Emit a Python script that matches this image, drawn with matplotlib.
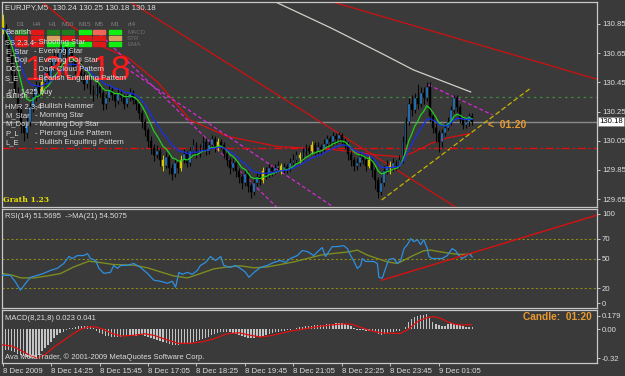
import numpy as np
import pandas as pd
import matplotlib
matplotlib.use("Agg")
import matplotlib.pyplot as plt
from matplotlib.patches import Rectangle
from matplotlib.transforms import blended_transform_factory

# EURJPY M5 candles, one per 5 minutes from 8 Dec 13:05
first_open = 130.88
closes = [
    130.82, 130.74, 130.62, 130.50, 130.38, 130.26, 130.15, 130.10,
    130.18, 130.28, 130.35, 130.42, 130.38, 130.45, 130.52, 130.48, 130.56,
    130.62, 130.58, 130.66, 130.70, 130.64, 130.68, 130.60, 130.55, 130.58, 130.50,
    130.44, 130.48, 130.40, 130.36, 130.42, 130.38, 130.30, 130.34, 130.40, 130.36, 130.32, 130.38, 130.35, 130.30, 130.34, 130.38, 130.33, 130.30,
    130.24, 130.18, 130.12, 130.05, 130.00, 129.95, 129.98, 129.92, 129.88, 129.94, 129.86, 129.82, 129.90, 129.86,
    129.92, 129.96, 129.90, 129.98, 130.02, 129.96, 130.00, 130.04, 129.98, 130.02, 130.06, 130.00, 130.04, 130.02,
    129.96, 129.92, 129.86, 129.90, 129.84, 129.80, 129.76, 129.82, 129.74, 129.70, 129.76,
    129.80, 129.78, 129.84, 129.82, 129.86, 129.84, 129.86, 129.88, 129.85, 129.87, 129.86, 129.90,
    129.92, 129.95, 129.93, 129.97, 130.00, 129.98, 130.02, 129.98, 130.01, 129.99, 130.03, 130.06, 130.04, 130.08, 130.06, 130.09, 130.05, 130.02,
    129.96, 129.92, 129.88, 129.90, 129.94, 129.92, 129.88, 129.92, 129.85, 129.78, 129.70, 129.76,
    129.84, 129.88, 129.86, 129.90, 129.88, 129.92,
    130.05, 130.18, 130.30, 130.26, 130.34, 130.30, 130.38, 130.34, 130.42,
    130.22, 130.14, 130.10, 130.04, 130.10, 130.14,
    130.18, 130.26, 130.34, 130.28, 130.20, 130.16, 130.18, 130.22, 130.18,
]
highs = [
    130.92, 130.85, 130.76, 130.66, 130.53, 130.42, 130.28, 130.18,
    130.22, 130.31, 130.39, 130.46, 130.45, 130.48, 130.55, 130.56, 130.60,
    130.66, 130.65, 130.69, 130.74, 130.72, 130.71, 130.70, 130.63, 130.62, 130.60,
    130.53, 130.51, 130.50, 130.43, 130.45, 130.44, 130.40, 130.37, 130.43, 130.42, 130.38, 130.41, 130.40, 130.37, 130.37, 130.41, 130.40, 130.35,
    130.32, 130.26, 130.20, 130.14, 130.08, 130.03, 130.02, 130.00, 129.95, 129.97, 129.96, 129.89, 129.93, 129.92,
    129.95, 129.99, 129.98, 130.01, 130.06, 130.04, 130.03, 130.08, 130.06, 130.05, 130.09, 130.08, 130.07, 130.06,
    130.04, 129.98, 129.94, 129.93, 129.92, 129.86, 129.82, 129.85, 129.84, 129.76, 129.79,
    129.83, 129.83, 129.87, 129.87, 129.89, 129.88, 129.89, 129.91, 129.90, 129.90, 129.89, 129.93,
    129.96, 129.98, 129.97, 130.00, 130.03, 130.02, 130.05, 130.04, 130.04, 130.03, 130.06, 130.09, 130.08, 130.11, 130.10, 130.11, 130.10, 130.07,
    130.04, 129.98, 129.94, 129.93, 129.97, 129.96, 129.94, 129.95, 129.94, 129.87, 129.80, 129.80,
    129.88, 129.92, 129.91, 129.93, 129.92, 129.95,
    130.08, 130.21, 130.34, 130.36, 130.38, 130.44, 130.42, 130.42, 130.45,
    130.45, 130.24, 130.17, 130.12, 130.13, 130.17,
    130.21, 130.29, 130.36, 130.36, 130.30, 130.22, 130.21, 130.24, 130.24,
]
lows = [
    130.78, 130.70, 130.58, 130.46, 130.34, 130.22, 130.10, 130.05,
    130.07, 130.15, 130.25, 130.32, 130.35, 130.36, 130.43, 130.45, 130.46,
    130.53, 130.55, 130.56, 130.63, 130.60, 130.61, 130.56, 130.51, 130.52, 130.46,
    130.40, 130.41, 130.37, 130.32, 130.34, 130.35, 130.26, 130.27, 130.32, 130.33, 130.28, 130.30, 130.32, 130.27, 130.28, 130.32, 130.30, 130.26,
    130.20, 130.14, 130.08, 130.01, 129.96, 129.91, 129.93, 129.88, 129.84, 129.86, 129.82, 129.78, 129.80, 129.83,
    129.84, 129.90, 129.87, 129.88, 129.96, 129.93, 129.94, 129.98, 129.95, 129.96, 130.00, 129.97, 129.98, 129.99,
    129.93, 129.88, 129.82, 129.84, 129.80, 129.76, 129.72, 129.74, 129.70, 129.66, 129.68,
    129.74, 129.75, 129.76, 129.79, 129.80, 129.81, 129.82, 129.84, 129.82, 129.83, 129.83, 129.84,
    129.88, 129.90, 129.90, 129.91, 129.95, 129.95, 129.96, 129.95, 129.96, 129.96, 129.97, 130.01, 130.01, 130.02, 130.03, 130.04, 130.02, 129.99,
    129.92, 129.88, 129.84, 129.85, 129.88, 129.89, 129.84, 129.86, 129.80, 129.72, 129.66, 129.68,
    129.74, 129.82, 129.82, 129.84, 129.85, 129.86,
    129.90, 130.03, 130.16, 130.22, 130.24, 130.27, 130.28, 130.30, 130.32,
    130.18, 130.10, 130.04, 129.97, 130.01, 130.08,
    130.12, 130.16, 130.24, 130.25, 130.17, 130.13, 130.14, 130.15, 130.16,
]
pattern_bars = [0, 13, 53, 59, 71, 86, 92, 98, 102, 121, 128]

# moving averages / drawn objects (bar index, price)
slow_ma_x = [81.8, 90.1, 108.3, 124.8, 135.6, 154.5]
slow_ma_y = [131.08, 131.00, 130.823, 130.651, 130.535, 130.384]
mid_ma_x = [12.5, 22.4, 32.3, 41.3, 51.2, 62, 74.2, 90.8, 109, 124.8, 131.4, 135.6, 141.3, 146.9, 154.5]
mid_ma_y = [131.01, 130.84, 130.70, 130.62, 130.45, 130.19, 130.08, 130.01, 129.99, 129.95, 129.94, 129.97, 130.03, 130.07, 130.10]
red_lines = [((107.3, 131.01), (196.4, 130.47)), ((42.2, 131.0), (149.2, 129.6))]
magenta_lines = [((32.3, 130.775), (90.4, 129.596)), ((40.6, 130.549), (109.2, 129.596)),
                 ((140.6, 130.432), (161.7, 130.227))]
yellow_line = ((125.1, 129.644), (174.3, 130.41))
level_red = 130.00
level_order = 130.35

# RSI(14) and its MA(21)
rsi_x = [0, 2.6, 4.3, 5.9, 7.6, 9.2, 11.5, 13.6, 15.8, 18, 20.2, 21.9, 23, 24.7, 26.8, 28, 29, 30.7,
         31.8, 33.4, 35.6, 36.7, 37.9, 39, 41.2, 43.3, 45.5, 47.8, 50, 52.1, 54.4, 56, 57.1, 58.2,
         59.3, 61, 62.6, 64.3, 65.3, 67, 68.6, 70.3, 72, 73, 75.2, 76.9, 78.5, 80.2, 81.3, 83, 85.1,
         87.4, 89.5, 91.7, 93.4, 95, 97.3, 98.9, 100.6, 102.7, 104.4, 105.5, 106.6, 107.7, 108.8,
         110.5, 112.6, 113.8, 114.9, 116, 117.1, 118.2, 118.7, 119.8, 121.5, 122.5, 123.7, 124.2,
         125.3, 126.4, 127.5, 129.1, 130.3, 131.4, 132.5, 133.6, 134.7, 135.8, 136.9, 138, 139,
         140.2, 140.7, 141.8, 143.5, 145.1, 146.8, 148.4, 149.5, 150.6, 151.7, 152.8, 153.9, 155]
rsi_val = [33, 33, 26, 18, 25, 31, 33, 35, 38, 40, 45, 52, 50, 53, 53, 55, 50, 48,
           40, 35, 36, 43, 40, 43, 43, 45, 41, 35, 28, 27, 25, 27, 21, 36,
           34, 36, 34, 38, 43, 46, 52, 48, 52, 43, 41, 43, 40, 36, 31, 36, 41,
           43, 46, 48, 46, 50, 53, 58, 57, 53, 58, 61, 52, 57, 62,
           62, 63, 60, 53, 47, 40, 43, 50, 47, 47, 47, 45, 31,
           30, 40, 49, 50, 45, 48, 60, 64, 70, 67, 69, 64, 69,
           60, 52, 50, 50, 50, 53, 60, 58, 53, 50, 52, 55, 51.6]
rsi_ma_x = [0, 3.3, 6, 10.3, 14.7, 19.1, 23.5, 28.5, 32.3, 36.7, 43.3, 47.8, 52.1, 56.5, 61,
            65.3, 69.7, 74.2, 78.5, 83, 87.4, 91.7, 96.1, 100.6, 104.9, 109.2, 114.3, 117.1,
            120.4, 123.7, 127, 130.3, 132.5, 135.8, 139, 141.3, 144.6, 147.9, 151.2, 154.7]
rsi_ma_val = [34.8, 33.1, 30.4, 30.4, 32.4, 34.8, 41.5, 47.3, 45.9, 43.9, 43.3, 40.6, 36.5, 32.4,
              30.4, 34.8, 39.5, 41.5, 42.6, 40.6, 41.5, 43.9, 46.6, 50, 53.4, 55.1, 56.7, 58.5,
              53.4, 50, 46.6, 45, 48.3, 53.4, 57.8, 58.5, 56.7, 55.1, 54.1, 54.5]
rsi_trend = ((125.1, 28), (196.4, 94))

# MACD(8,21,8) histogram per bar, and signal line
macd_hist = [
    -0.20, -0.20, -0.20, -0.21, -0.22, -0.235, -0.245, -0.255, -0.265, -0.275,
    -0.27, -0.26, -0.24, -0.21, -0.18, -0.15, -0.12, -0.085, -0.057, -0.04,
    -0.03, -0.012, 0.005, 0.012, 0.02, 0.024, 0.027, 0.027, 0.027, 0.018,
    0.007, -0.015, -0.038, -0.05, -0.062, -0.07, -0.072, -0.072, -0.072, -0.072,
    -0.07, -0.068, -0.066, -0.066, -0.064, -0.06, -0.057, -0.062, -0.072, -0.082,
    -0.09, -0.10, -0.112, -0.125, -0.135, -0.142, -0.148, -0.151, -0.15, -0.145,
    -0.14, -0.135, -0.128, -0.12, -0.112, -0.104, -0.095, -0.085, -0.072, -0.06,
    -0.05, -0.04, -0.032, -0.027, -0.025, -0.03, -0.04, -0.05, -0.057, -0.068,
    -0.078, -0.086, -0.088, -0.084, -0.078, -0.072, -0.062, -0.052, -0.043, -0.035,
    -0.03, -0.026, -0.022, -0.017, -0.012, -0.008, 0.0, 0.008, 0.015, 0.02,
    0.024, 0.027, 0.03, 0.034, 0.037, 0.038, 0.041, 0.045, 0.047, 0.05,
    0.052, 0.054, 0.053, 0.048, 0.04, 0.025, 0.008, -0.006, -0.01, -0.013,
    -0.016, -0.018, -0.021, -0.025, -0.045, -0.057, -0.05, -0.041, -0.032, -0.025,
    -0.02, -0.016, 0.0, 0.022, 0.07, 0.09, 0.11, 0.12, 0.128, 0.132,
    0.141, 0.10, 0.069, 0.05, 0.038, 0.03, 0.027, 0.045, 0.054, 0.05,
    0.047, 0.04, 0.027, 0.022, 0.016, 0.016,
]
signal_x = [0, 3, 6, 9, 11.5, 14, 17, 20, 23, 26, 28.5, 30.5, 33, 36, 39, 43, 47, 50, 54, 58, 62,
            66, 70, 74, 78, 82, 85, 88, 92, 95, 98.4, 105, 111.6, 114.9, 118.2, 121.5, 124.8, 128,
            131.4, 133.6, 136.9, 140.2, 142.4, 144.6, 146.8, 149, 151.2, 154.7]
signal_val = [-0.15, -0.16, -0.20, -0.25, -0.275, -0.24, -0.17, -0.11, -0.05, 0.0, 0.02, 0.02, 0.0,
              -0.04, -0.066, -0.06, -0.045, -0.06, -0.10, -0.135, -0.135, -0.12, -0.09, -0.045,
              -0.035, -0.06, -0.075, -0.065, -0.04, -0.02, -0.005, 0.027, 0.047, 0.047, 0.016,
              -0.016, -0.035, -0.041, -0.041, -0.009, 0.069, 0.11, 0.116, 0.10, 0.069, 0.047,
              0.038, 0.041]

time_ticks = [0, 16, 32, 48, 64, 80, 96, 112, 128, 144]
time_labels = ["8 Dec 2009", "8 Dec 14:25", "8 Dec 15:45", "8 Dec 17:05", "8 Dec 18:25",
               "8 Dec 19:45", "8 Dec 21:05", "8 Dec 22:25", "8 Dec 23:45", "9 Dec 01:05"]
price_ticks = [129.65, 129.85, 130.05, 130.25, 130.45, 130.65, 130.85]

# signal table (D1..M1) rows MACD / STR / EMA
table_cols = ["D1", "H4", "H1", "M30", "M15", "M5", "M1"]
table_rows = ["MACD", "STR", "EMA"]
DG, RD, LM, SA, TN = "#1f7f1f", "#e01818", "#10f010", "#f06858", "#d8a060"
table_colors = [
    [DG, RD, DG, DG, LM, SA, LM],
    [RD, RD, TN, RD, RD, RD, TN],
    [RD, RD, LM, LM, LM, RD, LM],
]
bear_labels = [("Bearish", ""), ("SS 2,3,4", "- Shooting Star"), ("E_Star", "- Evening Star"),
               ("E_Doji", "- Evening Doji Star"), ("DCC", "- Dark Cloud Pattern"),
               ("S_E", "- Bearish Engulfing Pattern")]
bull_labels = [("Bullish", ""), ("HMR 2,3,4", "- Bullish Hammer"), ("M_Star", "- Morning Star"),
               ("M_Doji", "- Morning Doji Star"), ("P_L", "- Piercing Line Pattern"),
               ("L_E", "- Bullish Engulfing Pattern")]

BG = "#3a3a3a"
FG = "#dcdcdc"
W, H = 625, 376
plt.rcParams["font.family"] = ["Liberation Sans", "DejaVu Sans"]


def frac(x0, y0, x1, y1):
    return [x0 / W, 1 - y1 / H, (x1 - x0) / W, (y1 - y0) / H]


def ftext(x, y, s, **kw):
    kw.setdefault("color", FG)
    kw.setdefault("fontsize", 5.5)
    kw.setdefault("va", "center")
    fig.text(x / W, 1 - y / H, s, zorder=10, **kw)


fig = plt.figure(figsize=(6.25, 3.76), dpi=100, facecolor=BG)
ax = fig.add_axes(frac(2, 2, 597, 207))
ax_rsi = fig.add_axes(frac(2, 209, 597, 308), sharex=ax)
ax_macd = fig.add_axes(frac(2, 310, 597, 363), sharex=ax)

for a in (ax, ax_rsi, ax_macd):
    a.set_facecolor(BG)
    for s in a.spines.values():
        s.set_color("#c8c8c8")
        s.set_linewidth(0.9)
    a.yaxis.tick_right()
    a.tick_params(axis="y", colors=FG, labelsize=5.6, length=2, width=0.6, pad=1.5)
    a.tick_params(axis="x", colors=FG, labelsize=5.6, length=2, width=0.6, pad=1.5)
ax.tick_params(axis="x", bottom=False, labelbottom=False)
ax_rsi.tick_params(axis="x", bottom=False, labelbottom=False)
ax.set_xlim(-0.2, 196.2)

# ---- main price panel ----
n = len(closes)
idx = np.arange(n)
opens = [first_open] + closes[:-1]
ax.vlines(idx, lows, highs, color="#050505", lw=0.8, zorder=3)
for i in range(n):
    o, c = opens[i], closes[i]
    col = "#2a88e0" if c >= o else "#000000"
    if i in pattern_bars:
        col = "#d8c800"
    ax.bar(i, max(abs(c - o), 0.006), bottom=min(o, c), width=0.62, color=col,
           edgecolor="#050505" if i not in pattern_bars else col, linewidth=0.3, zorder=4)
    if i in pattern_bars:
        ax.vlines(i, lows[i], highs[i], color=col, lw=0.8, zorder=4)

s = pd.Series(closes)
ax.plot(idx, s.ewm(span=8, adjust=False).mean(), color="#20d020", lw=0.9, zorder=5)
ax.plot(idx, s.ewm(span=14, adjust=False).mean(), color="#1830e8", lw=0.9, zorder=5)
ax.plot(mid_ma_x, mid_ma_y, color="#d81010", lw=0.9, zorder=2)
ax.plot(slow_ma_x, slow_ma_y, color="#d0d0c8", lw=0.9, zorder=2)
for (x0, y0), (x1, y1) in red_lines:
    ax.plot([x0, x1], [y0, y1], color="#d01010", lw=0.9, zorder=2)
for (x0, y0), (x1, y1) in magenta_lines:
    ax.plot([x0, x1], [y0, y1], color="#d828d8", lw=0.9, dashes=(3, 2), zorder=2)
ax.plot([yellow_line[0][0], yellow_line[1][0]], [yellow_line[0][1], yellow_line[1][1]],
        color="#c8b400", lw=0.9, dashes=(4, 2), zorder=2)
ax.axhline(level_red, color="#e01010", lw=1.0, dashes=(6, 2, 1.5, 2), zorder=2)
ax.axhline(level_order, color="#3e8a3e", lw=0.9, dashes=(2, 3), zorder=2)
ax.axhline(closes[-1], color="#8a8a8a", lw=1.0, zorder=1)

ax.set_ylim(129.596, 131.0)
ax.set_yticks(price_ticks)
ax.set_yticklabels([f"{p:.2f}" for p in price_ticks])
bt = blended_transform_factory(ax.transAxes, ax.transData)
ax.text(1.004, closes[-1], f"{closes[-1]:.2f}", transform=bt, fontsize=5.6, color="black",
        va="center", ha="left", clip_on=False,
        bbox=dict(boxstyle="square,pad=0.15", fc="white", ec="#888888", lw=0.5))

# ---- RSI panel ----
ax_rsi.plot(rsi_x, rsi_val, color="#2e8fe0", lw=0.9, zorder=3)
ax_rsi.plot(rsi_ma_x, rsi_ma_val, color="#7c8c20", lw=1.0, zorder=2)
for lev in (70, 50, 20):
    ax_rsi.axhline(lev, color="#8a8a18", lw=0.8, dashes=(2, 2), zorder=1)
ax_rsi.plot([rsi_trend[0][0], rsi_trend[1][0]], [rsi_trend[0][1], rsi_trend[1][1]],
            color="#d81010", lw=1.0, zorder=4)
ax_rsi.set_ylim(0, 100)
ax_rsi.set_yticks([95, 70, 50, 20, 5], ["100", "70", "50", "20", "0"])

# ---- MACD panel ----
ax_macd.bar(idx, macd_hist, width=0.45, color="#c4c4c4", zorder=2)
ax_macd.plot(signal_x, signal_val, color="#e01010", lw=0.9, zorder=3)
ax_macd.set_ylim(-0.32, 0.179)
ax_macd.set_yticks([0.125, 0.0, -0.275], ["0.179", "0.00", "-0.32"])
ax_macd.set_xticks(time_ticks)
ax_macd.set_xticklabels(time_labels)
for lbl in ax_macd.get_xticklabels():
    lbl.set_ha("left")

# ---- overlay texts ----
ftext(5, 8, "EURJPY,M5  130.24 130.25 130.18 130.18", fontsize=5.7)
col_x = [21, 37, 53, 68, 85, 99, 115]
for cx, name in zip(col_x, table_cols):
    ftext(cx, 25, name, color="#808080", fontsize=4.6, ha="center")
ftext(132, 25, "cl4", color="#808080", fontsize=4.6, ha="center")
fig.text(24 / W, 1 - 80 / H, "130.18", color="#ff1a1a", fontsize=25, va="baseline",
         zorder=10)
row_y = [32.3, 38.3, 44.3]
for ry, rname, cols in zip(row_y, table_rows, table_colors):
    ftext(127, ry, rname, color="#707070", fontsize=4.4)
    for cx, c in zip(col_x, cols):
        fig.patches.append(Rectangle(((cx - 6) / W, 1 - (ry + 2) / H), 12 / W, 4 / H,
                                     transform=fig.transFigure, color=c, zorder=6))
for k, (a, b) in enumerate(bear_labels):
    yy = 33 + 9.2 * k
    ftext(5, yy, a)
    if b:
        ftext(34, yy, b)
ftext(8, 92, "#1  1425 buy")
for k, (a, b) in enumerate(bull_labels):
    yy = 97 + 9.2 * k
    ftext(5, yy, a)
    if b:
        ftext(35, yy, b)
ftext(3, 200, "Grath 1.23", color="#e8e000", fontsize=5.5, weight="bold",
      family=["DejaVu Serif"])
ftext(488, 125, "<  01:20", color="#e89a30", fontsize=7.5, weight="bold")
ftext(5, 217, "RSI(14) 51.5695  ->MA(21) 54.5075")
ftext(5, 318, "MACD(8,21,8) 0.023 0.041")
ftext(5, 357, "Ava MetaTrader, \u00a9 2001-2009 MetaQuotes Software Corp.")
ftext(523, 317, "Candle:  01:20", color="#e89a30", fontsize=7.3, weight="bold")

fig.savefig("out.png", dpi=100, facecolor=BG)
